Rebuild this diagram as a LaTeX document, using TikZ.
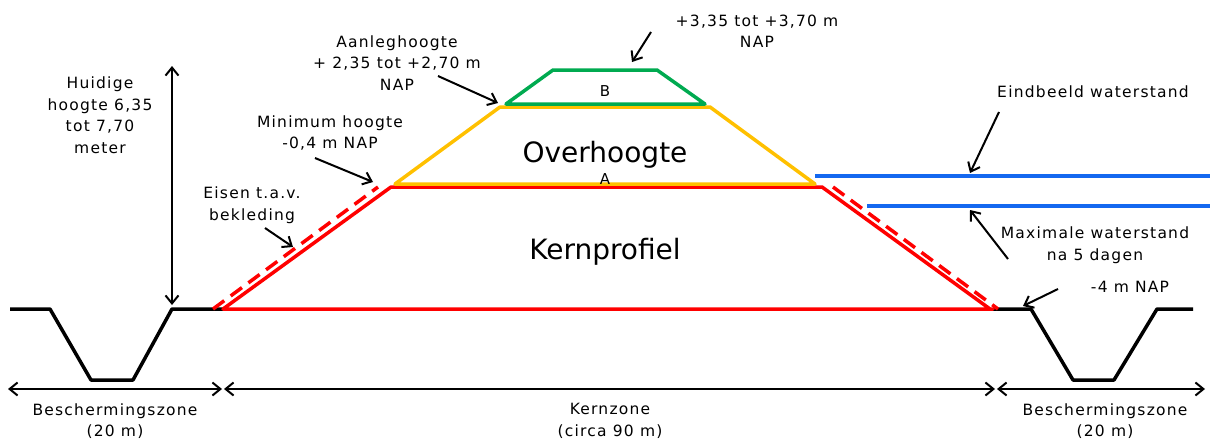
\documentclass[tikz,border=0pt]{standalone}
\usepackage{fontspec}
\setmainfont[LetterSpace=8]{DejaVu Sans}
\newfontfamily\grootfont{DejaVu Sans}
\usetikzlibrary{arrows.meta}
\definecolor{dijkrood}{RGB}{255,0,0}
\definecolor{dijkgeel}{RGB}{255,192,0}
\definecolor{dijkgroen}{RGB}{0,170,80}
\definecolor{dijkblauw}{RGB}{20,104,240}
\tikzset{
  label/.style={align=center,inner sep=0pt,font=\fontsize{15.5}{21.5}\selectfont},
  letter/.style={inner sep=0pt,font=\fontsize{15}{17}\selectfont},
  pijl/.style={->,line width=2pt},
  zone/.style={<->,line width=2pt},
  profiel/.style={line width=3.5pt,line join=round}
}

\begin{document}
\begin{tikzpicture}[x=1pt,y=-1pt,>={Straight Barb[length=8pt,width=13pt]}]
\useasboundingbox (0,0) rectangle (1210,440);
\draw[profiel] (10,309) -- (50,309) -- (91,380) -- (133,380) -- (172,309) -- (223,309);
\draw[profiel] (993,309) -- (1031,309) -- (1073,380) -- (1114,380) -- (1157,309) -- (1193,309);
\draw[profiel,dijkrood] (223,309) -- (391,187) -- (822,187) -- (990,309) -- (993,309) -- cycle;
\draw[profiel,dijkrood,dash pattern=on 14pt off 8pt] (213,309) -- (378,187);
\draw[profiel,dijkrood,dash pattern=on 14pt off 8pt] (833,187) -- (998,309);
\draw[profiel,dijkgeel] (395,184) -- (500,107) -- (710,107) -- (815,184) -- cycle;
\draw[profiel,dijkgroen] (506,104) -- (553,70) -- (657,70) -- (705,104) -- cycle;
\draw[profiel,dijkblauw] (815,176) -- (1210,176);
\draw[profiel,dijkblauw] (867,206) -- (1210,206);
\node[letter] (B) at (605,91) {B};
\node[letter] (A) at (605,179) {A};
\node (over) at (605,155) {\grootfont\fontsize{28}{30}\selectfont Overhoogte};
\node (kern) at (605,252) {\grootfont\fontsize{28}{30}\selectfont Kernprofiel};
\node[label] (huidig) at (100,115) {Huidige\\hoogte 6,35\\tot 7,70\\meter};
\coordinate (hboven) at (172,66);
\coordinate (honder) at (172,305);
\draw[zone] (hboven) -- (honder);
\node[label] (minimum) at (330,133) {Minimum hoogte\\-0,4 m NAP};
\node[label] (eisen) at (252,205) {Eisen t.a.v.\\bekleding};
\node[label] (aanleg) at (397,63) {Aanleghoogte\\+ 2,35 tot +2,70 m\\NAP};
\node[label] (kruin) at (757,31) {+3,35 tot +3,70 m\\NAP};
\node[label] (eindbeeld) at (1093,92) {Eindbeeld waterstand};
\node[label] (maximaal) at (1095,245) {Maximale waterstand\\na 5 dagen};
\node[label] (maaiveld) at (1130,287) {-4 m NAP};
\coordinate (m1) at (315,158); \coordinate (m2) at (373,182);
\coordinate (e1) at (265,228); \coordinate (e2) at (293,247);
\coordinate (a1) at (438,76); \coordinate (a2) at (498,103);
\coordinate (k1) at (651,32); \coordinate (k2) at (632,62);
\coordinate (w1) at (999,112); \coordinate (w2) at (970,173);
\coordinate (x1) at (1008,259); \coordinate (x2) at (970,210);
\coordinate (n1) at (1058,289); \coordinate (n2) at (1023,306);
\foreach \van/\naar in {m1/m2,e1/e2,a1/a2,k1/k2,w1/w2,x1/x2,n1/n2}
\draw[pijl] (\van) -- (\naar);
\coordinate (z0) at (8,389);
\coordinate (z1) at (223,389);
\coordinate (z2) at (996,389);
\coordinate (z3) at (1205,389);
\draw[zone] (z0) -- ([xshift=-1pt]z1);
\draw[zone] ([xshift=1pt]z1) -- ([xshift=-1pt]z2);
\draw[zone] ([xshift=1pt]z2) -- (z3);
\node[label] (links) at (115,421) {Beschermingszone\\(20 m)};
\node[label] (midden) at (610,421) {Kernzone\\(circa 90 m)};
\node[label] (rechts) at (1105,421) {Beschermingszone\\(20 m)};
\end{tikzpicture}
\end{document}
